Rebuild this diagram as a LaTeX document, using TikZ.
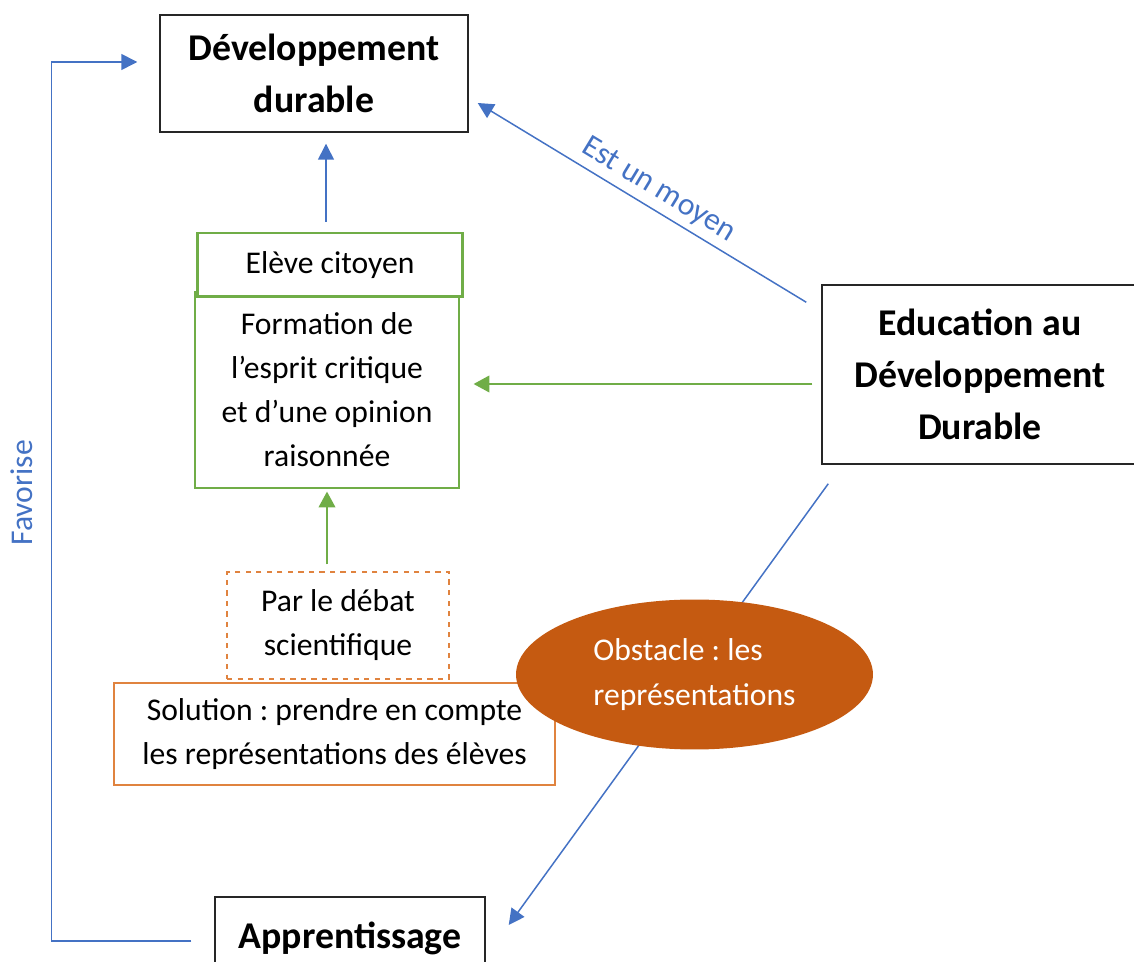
\documentclass[tikz,border=0pt]{standalone}
\usepackage{fontspec}
\setmainfont{Carlito}
\frenchspacing
\usepackage{tikz}
\usetikzlibrary{arrows}
\usetikzlibrary{arrows.meta}
\usetikzlibrary{shapes}
\usetikzlibrary{calc}
\usetikzlibrary{positioning}
\definecolor{bleu}{HTML}{4472C4}
\definecolor{vert}{HTML}{70AD47}
\definecolor{brique}{HTML}{C55A11}
\definecolor{orangeclair}{HTML}{E0833F}
\tikzstyle{bloc}=[rectangle, draw=black!85, line width=0.85pt, inner sep=0pt, align=center, font=\bfseries\fontsize{21.5}{29.5}\selectfont]
\tikzstyle{boite}=[rectangle, inner sep=0pt, align=center, font=\fontsize{18}{25}\selectfont]
\tikzstyle{fleche}=[draw=bleu, line width=0.85pt, -{Triangle[length=9pt,width=9pt]}]
\tikzstyle{flechev}=[draw=vert, line width=1pt, -{Triangle[length=9pt,width=9.5pt]}]
\begin{document}
\begin{tikzpicture}[x=0.02cm, y=-0.02cm]
\useasboundingbox (0,0) rectangle (1134,962);

\node[bloc, minimum width=6.16cm, minimum height=2.34cm] (dd) at (314,73.5)
{D\'eveloppement\\durable};

\node[bloc, minimum width=6.32cm, minimum height=3.58cm] (edd) at (980,374.5)
{Education au\\D\'eveloppement\\Durable};

\node[bloc, minimum width=5.4cm, minimum height=1.64cm] (appr) at (350,938)
{Apprentissage};

\node[boite, draw=vert, line width=0.7pt, minimum width=5.28cm, minimum height=3.92cm] (formation) at (327,390)
{Formation de\\l'esprit critique\\et d'une opinion\\raisonn\'ee};

\node[boite, draw=vert, line width=1.7pt, fill=white, minimum width=5.32cm, minimum height=1.28cm] (eleve) at (330,265)
{El\`eve citoyen};

\node[boite, draw=orangeclair, line width=0.85pt, minimum width=8.82cm, minimum height=2.04cm] (solution) at (334.5,734)
{Solution : prendre en compte\\les repr\'esentations des \'el\`eves};

\node[boite, draw=orangeclair, line width=0.85pt, dashed, minimum width=4.44cm, minimum height=2.14cm] (debat) at (338,625.5)
{Par le d\'ebat\\scientifique};

\draw[fleche] ($(edd.south west)+(7,19)$) -- ($(appr.east)+(23,-13)$);

\node[ellipse, fill=brique, inner sep=0pt, minimum width=7.14cm, minimum height=3cm, text=white, align=left, font=\fontsize{18}{25.5}\selectfont] (obstacle) at (694.5,674.5)
{Obstacle : les\\repr\'esentations};

\draw[fleche] ($(eleve.north)+(-4,-10)$) -- ($(eleve.north |- dd.south)+(-4,11)$);
\draw[flechev] ($(debat.north -| formation.south)+(0,-7)$) -- ($(formation.south)+(0,3)$);
\draw[flechev] ($(edd.west)+(-9,9.5)$) -- ($(formation.east |- edd.west)+(14,9.5)$);
\draw[fleche] ($(edd.north west)+(-15,18)$) -- ($(dd.east)+(9,29.5)$) node[pos=0.48, sloped, above, text=bleu, font=\fontsize{18}{25}\selectfont] {Est un moyen};
\draw[fleche] ($(appr.west)+(-23,3)$) -- ++(-140,0) |- ($(dd.west)+(-22,-11.5)$) node[pos=0.255, rotate=90, anchor=south, inner sep=10pt, text=bleu, font=\fontsize{18}{25}\selectfont] {Favorise};

\end{tikzpicture}
\end{document}
